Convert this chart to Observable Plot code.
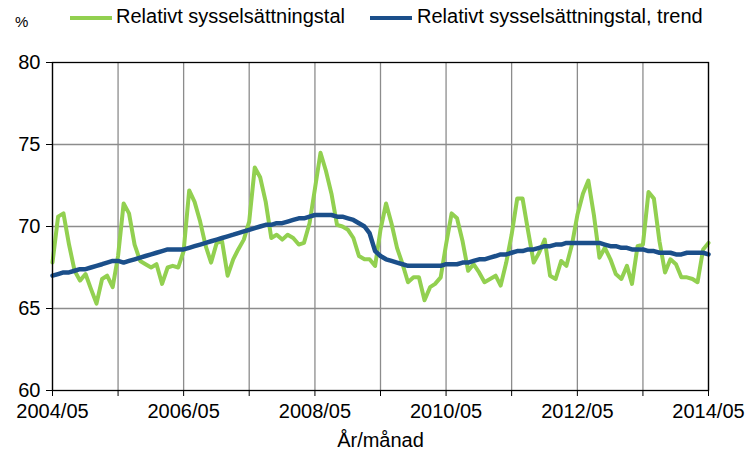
<!DOCTYPE html>
<html><head><meta charset="utf-8">
<script src="https://cdn.jsdelivr.net/npm/d3@7"></script>
<script src="https://cdn.jsdelivr.net/npm/@observablehq/plot@0.6"></script>
<style>
body{margin:0;background:#fff;font-family:"Liberation Sans",Arial,sans-serif;}
#legend{position:relative;height:40px;width:747px;font-size:20px;color:#000;}
#legend .sw{position:absolute;height:4px;top:16px;}
#legend .tx{position:absolute;top:5px;white-space:nowrap;line-height:23px;}
#legend .unit{position:absolute;left:15px;top:13px;font-size:15px;}
</style></head><body>
<div id="legend"></div><div id="chart"></div>
<script>
const startMonth = "2004/05";
const seriesNames = ["Relativt sysselsättningstal", "Relativt sysselsättningstal, trend"];
const seriesColors = ["#92d050", "#1b4f8a"];
const unitLabel = "%";
const xLabel = "År/månad";
const yTicks = [60, 65, 70, 75, 80];
const xTickLabels = ["2004/05", "2006/05", "2008/05", "2010/05", "2012/05", "2014/05"];

const seasonal = [
  67.8, 70.6, 70.8, 68.9, 67.3, 66.7, 67.1, 66.2, 65.3, 66.8, 67.0, 66.3,
  68.2, 71.4, 70.8, 68.9, 67.9, 67.7, 67.5, 67.7, 66.5, 67.5, 67.6, 67.5,
  68.5, 72.2, 71.5, 70.3, 68.8, 67.8, 69.0, 69.1, 67.0, 68.0, 68.6, 69.2,
  70.3, 73.6, 73.0, 71.5, 69.3, 69.5, 69.2, 69.5, 69.3, 68.9, 69.0, 70.2,
  72.3, 74.5, 73.4, 72.0, 70.1, 70.0, 69.8, 69.3, 68.2, 68.0, 68.0, 67.6,
  69.8, 71.4, 70.2, 68.7, 67.7, 66.6, 66.9, 66.9, 65.5, 66.3, 66.5, 66.9,
  68.9, 70.8, 70.5, 69.1, 67.3, 67.7, 67.2, 66.6, 66.8, 67.0, 66.4, 67.8,
  69.5, 71.7, 71.7, 69.7, 67.8, 68.4, 69.2, 67.0, 66.8, 67.9, 67.6, 68.9,
  70.7, 72.0, 72.8, 70.7, 68.1, 68.7, 68.0, 67.1, 66.8, 67.6, 66.5, 68.8,
  68.9, 72.1, 71.7, 69.1, 67.2, 68.0, 67.7, 66.9, 66.9, 66.8, 66.6, 68.6,
  69.0
];
const trend = [
  67.0, 67.1, 67.2, 67.2, 67.3, 67.4, 67.4, 67.5, 67.6, 67.7, 67.8, 67.9,
  67.9, 67.8, 67.9, 68.0, 68.1, 68.2, 68.3, 68.4, 68.5, 68.6, 68.6, 68.6,
  68.6, 68.7, 68.8, 68.9, 69.0, 69.1, 69.2, 69.3, 69.4, 69.5, 69.6, 69.7,
  69.8, 69.9, 70.0, 70.1, 70.1, 70.2, 70.2, 70.3, 70.4, 70.5, 70.5, 70.6,
  70.7, 70.7, 70.7, 70.7, 70.6, 70.6, 70.5, 70.4, 70.2, 70.0, 69.6, 68.5,
  68.2, 68.0, 67.9, 67.8, 67.7, 67.6, 67.6, 67.6, 67.6, 67.6, 67.6, 67.6,
  67.7, 67.7, 67.7, 67.8, 67.8, 67.9, 68.0, 68.0, 68.1, 68.2, 68.3, 68.3,
  68.4, 68.5, 68.5, 68.6, 68.6, 68.7, 68.8, 68.8, 68.9, 68.9, 69.0, 69.0,
  69.0, 69.0, 69.0, 69.0, 69.0, 68.9, 68.8, 68.8, 68.7, 68.7, 68.6, 68.6,
  68.6, 68.5, 68.5, 68.4, 68.4, 68.4, 68.3, 68.3, 68.4, 68.4, 68.4, 68.4,
  68.3
];

const parse = d3.utcParse("%Y/%m");
const fmt = d3.utcFormat("%Y/%m");
const t0 = parse(startMonth);
const dates = seasonal.map((_, i) => d3.utcMonth.offset(t0, i));
const yearTicks = dates.filter((d, i) => i % 12 === 0);
const labelTicks = xTickLabels.map(parse);

const rows = dates.map((d, i) => ({date: d, value: seasonal[i], series: seriesNames[0]}));
const trows = dates.map((d, i) => ({date: d, value: trend[i], series: seriesNames[1]}));

// legend
const lg = document.getElementById("legend");
lg.innerHTML = `<span class="unit">${unitLabel}</span>
<div class="sw" style="left:70px;width:42px;background:${seriesColors[0]}"></div>
<span class="tx" style="left:116px">${seriesNames[0]}</span>
<div class="sw" style="left:370px;width:42px;background:${seriesColors[1]}"></div>
<span class="tx" style="left:417px">${seriesNames[1]}</span>`;

const chart = Plot.plot({
  width: 747, height: 417,
  marginLeft: 52, marginRight: 39, marginTop: 22, marginBottom: 67,
  style: {fontFamily: "Liberation Sans, Arial, sans-serif", fontSize: "20px", color: "#000", background: "#fff"},
  x: {type: "utc", domain: [dates[0], dates[dates.length - 1]]},
  y: {domain: [60, 80]},
  marks: [
    Plot.gridX(yearTicks, {stroke: "#8c8c8c", strokeOpacity: 1, strokeWidth: 1.3}),
    Plot.gridY(yTicks.slice(1, -1), {stroke: "#8c8c8c", strokeOpacity: 1, strokeWidth: 1.3}),
    Plot.line(rows, {x: "date", y: "value", stroke: seriesColors[0], strokeWidth: 4}),
    Plot.line(trows, {x: "date", y: "value", stroke: seriesColors[1], strokeWidth: 4.5}),
    Plot.frame({stroke: "#000", strokeWidth: 1.3}),
    Plot.axisY(yTicks, {tickSize: 6, tickPadding: 6, label: null, tickFormat: d => String(d)}),
    Plot.axisX(yearTicks, {tickSize: 6, tickFormat: () => "", label: null}),
    Plot.axisX(labelTicks, {tickSize: 0, tickPadding: 13, tickFormat: fmt, label: null}),
    Plot.text([xLabel], {frameAnchor: "bottom", dy: 50, lineAnchor: "middle", fontSize: 20})
  ]
});
document.getElementById("chart").appendChild(chart);
</script>
</body></html>
